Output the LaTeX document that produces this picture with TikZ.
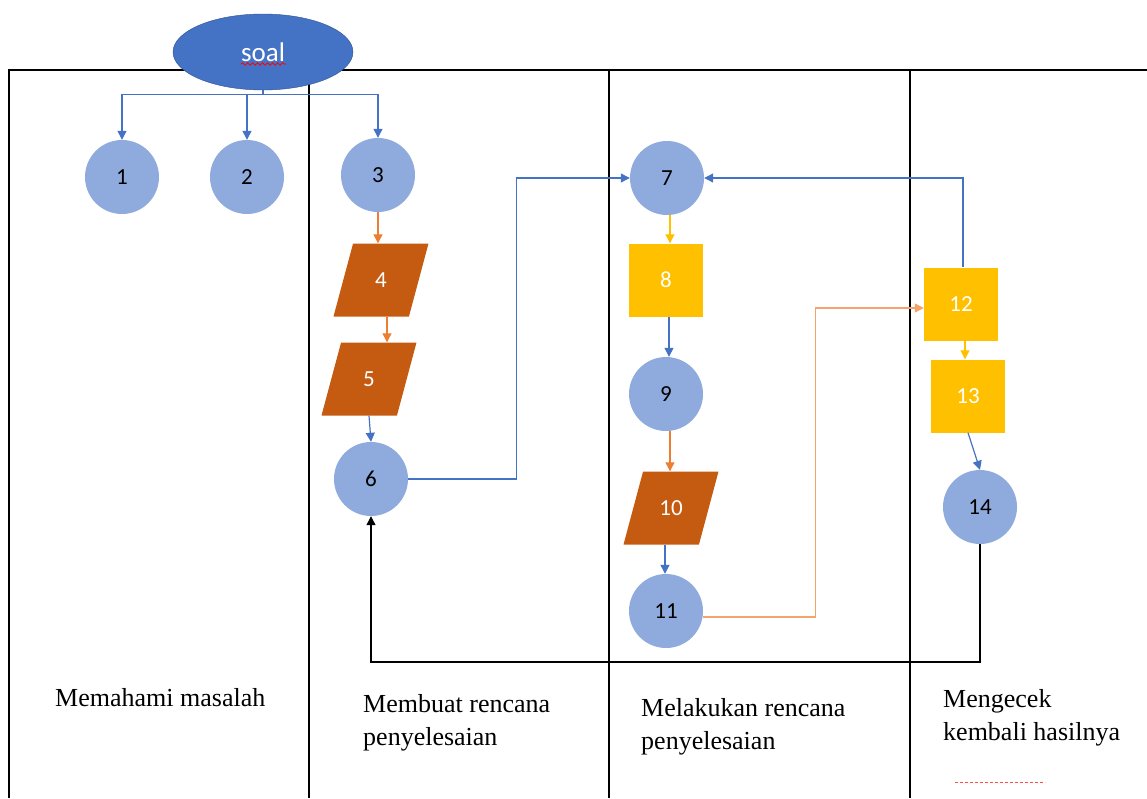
\documentclass[tikz,border=0pt]{standalone}
\usepackage{fontspec}
\setmainfont{Liberation Serif}
\newfontfamily\calibri{Carlito}
\usetikzlibrary{shapes.geometric, arrows.meta, decorations.pathmorphing, positioning}
\definecolor{lineblue}{HTML}{4472C4}
\definecolor{circblue}{HTML}{8FAADC}
\definecolor{ovalborder}{HTML}{2F528F}
\definecolor{paraorange}{HTML}{C55A11}
\definecolor{arrorange}{HTML}{ED7D31}
\definecolor{lightorange}{HTML}{F4A36B}
\definecolor{sqyellow}{HTML}{FFC000}

\begin{document}
\begin{tikzpicture}[x=1pt,y=-1pt,
  circ/.style={circle,fill=circblue,minimum size=74pt,inner sep=0pt,font=\calibri\fontsize{23}{26}\selectfont},
  sq/.style={rectangle,fill=sqyellow,minimum width=74pt,minimum height=73pt,inner sep=0pt,text=white,font=\calibri\fontsize{23}{26}\selectfont},
  para/.style={trapezium,trapezium left angle=75,trapezium right angle=105,trapezium stretches body,minimum width=95pt,text height=15pt,text depth=0pt,inner xsep=0pt,inner ysep=29pt,fill=paraorange,text=white,font=\calibri\fontsize{23}{26}\selectfont},
  arr/.style={-{Triangle[width=9pt,length=9pt]},line width=1.2pt},
  lbl/.style={align=left,inner sep=0pt,font=\fontsize{26}{33}\selectfont}]
\useasboundingbox (0,0) rectangle (1147,798);

% lanes
\draw[line width=1.2pt] (9,798) -- (9,70) -- (1147,70);
\draw[line width=1.2pt] (309,70) -- (309,798);
\draw[line width=1.2pt] (609,70) -- (609,798);
\draw[line width=1.2pt] (910,70) -- (910,798);

\node[ellipse,draw=ovalborder,fill=lineblue,minimum width=180pt,minimum height=76pt,text=white,font=\calibri\fontsize{27}{30}\selectfont] (s) at (263,52) {soal};
\draw[red,line width=0.8pt,decorate,decoration={snake,amplitude=1.2pt,segment length=5pt}] (241,64) -- (286,64);

\node[circ] (1) at (122,177) {1};
\node[circ] (2) at (247,177) {2};
\node[circ] (3) at (378,175) {3};
\node[para] (4) at (381,280) {4};
\node[para] (5) at (369,379) {5};
\node[circ] (6) at (371,479) {6};
\node[circ] (7) at (667,178) {7};
\node[sq] (8) at (666,280) {8};
\node[circ] (9) at (666,394) {9};
\node[para] (10) at (671,508) {10};
\node[circ] (11) at (666,611) {11};
\node[sq] (12) at (961,304) {12};
\node[sq] (13) at (968,396) {13};
\node[circ] (14) at (980,507) {14};

\draw[arr,lineblue] (s.south) -- ++(0,4) -| (1);
\draw[arr,lineblue] (s.south) -- ++(0,4) -| (2);
\draw[arr,lineblue] (s.south) -- ++(0,4) -| (3);
\draw[arr,arrorange] (3.south) -- (3.south |- 4.north);
\draw[arr,arrorange] ([xshift=6pt]4.south) -- ([xshift=6pt]4.south |- 5.north);
\draw[arr,lineblue] (5.south) -- (6.north);
\draw[arr,lineblue] (6.east) -- ++(108,0) |- (7.west);
\draw[arr,sqyellow] ([xshift=3pt]7.south) -- ([xshift=3pt]7.south |- 8.north);
\draw[arr,lineblue] ([xshift=3pt]8.south) -- ([xshift=3pt]8.south |- 9.north);
\draw[arr,arrorange] ([xshift=4pt]9.south) -- ([xshift=4pt]9.south |- 10.north);
\draw[arr,lineblue] ([xshift=-1pt]10.south -| 11) -- ([xshift=-1pt]11.north);
\draw[arr,lightorange] ([yshift=-6pt]11.east) -- ++(112,0) |- ([yshift=-4pt]12.west);
\draw[arr,lineblue] ([xshift=2pt]12.north) |- (7.east);
\draw[arr,sqyellow] ([xshift=4pt]12.south) -- ([xshift=4pt]12.south |- 13.north);
\draw[arr,lineblue] (13.south) -- (14.north);
\draw[arr,black] (14.south) -- (14.south |- 0,662) -| (6.south);

\node[lbl,anchor=west] (t1) at (55,698) {Memahami masalah};
\node[lbl,anchor=west] (t2) at (363,723) {Membuat rencana\\penyelesaian};
\node[lbl,anchor=west] (t3) at (641,727) {Melakukan rencana\\penyelesaian};
\node[lbl,anchor=west] (t4) at (943,718) {Mengecek\\kembali hasilnya};
\draw[red!70,densely dashed,line width=0.6pt] (955,782) -- (1045,782);
\end{tikzpicture}
\end{document}
